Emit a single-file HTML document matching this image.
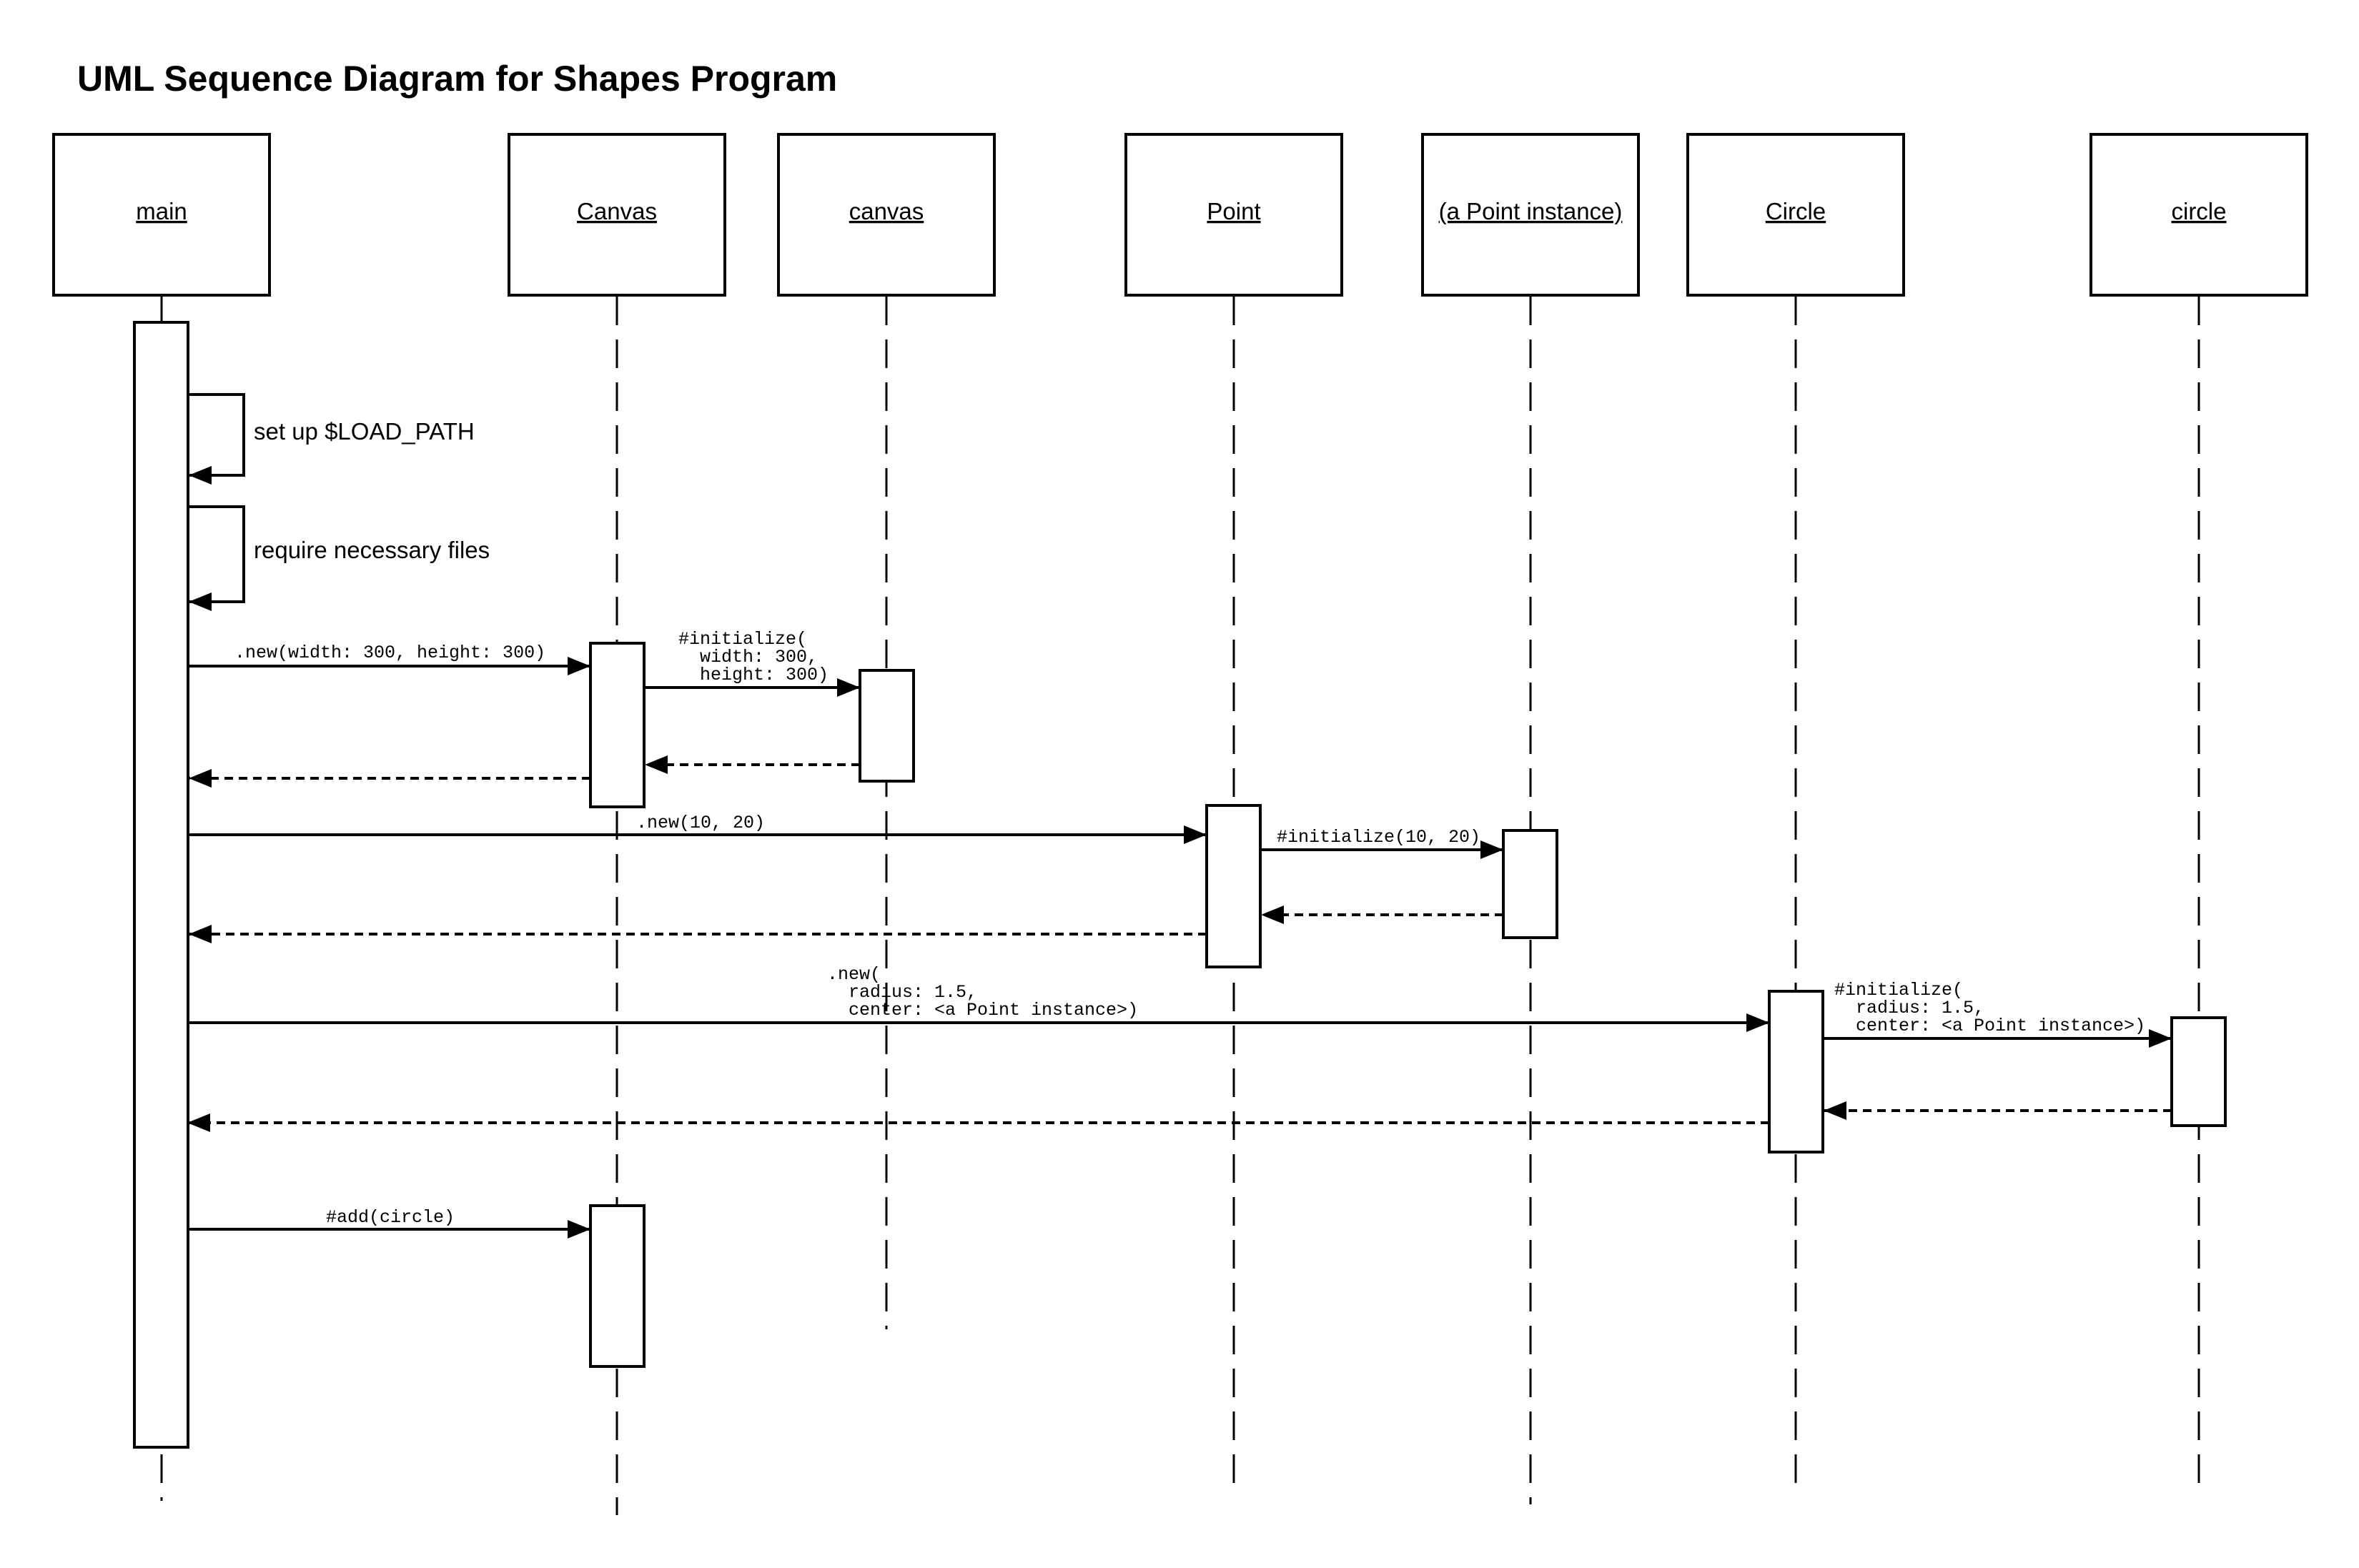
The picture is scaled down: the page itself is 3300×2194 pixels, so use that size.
<!DOCTYPE html>
<html><head><meta charset="utf-8"><style>
html,body{margin:0;padding:0;background:#fff}
svg{display:block}
.t{font-family:"Liberation Sans",sans-serif}
.m{font-family:"Liberation Mono",monospace;font-size:25px}
</style></head><body>
<svg width="3300" height="2194" viewBox="0 0 3300 2194" xmlns="http://www.w3.org/2000/svg">
<defs>
<marker id="a" markerWidth="34" markerHeight="26" refX="32" refY="13" markerUnits="userSpaceOnUse" orient="auto">
<path d="M0,0 L32,13 L0,26 z" fill="#000"/></marker>
</defs>
<rect width="3300" height="2194" fill="#fff"/>
<text x="108" y="127" class="t" font-size="50" font-weight="bold">UML Sequence Diagram for Shapes Program</text>

<g fill="#fff" stroke="#000" stroke-width="4">
<rect x="75" y="188" width="302" height="225"/>
<rect x="712" y="188" width="302" height="225"/>
<rect x="1089" y="188" width="302" height="225"/>
<rect x="1575" y="188" width="302" height="225"/>
<rect x="1990" y="188" width="302" height="225"/>
<rect x="2361" y="188" width="302" height="225"/>
<rect x="2925" y="188" width="302" height="225"/>
</g>
<g class="t" font-size="33" text-anchor="middle" text-decoration="underline">
<text x="226" y="307">main</text>
<text x="863" y="307">Canvas</text>
<text x="1240" y="307">canvas</text>
<text x="1726" y="307">Point</text>
<text x="2141" y="307">(a Point instance)</text>
<text x="2512" y="307">Circle</text>
<text x="3076" y="307">circle</text>
</g>

<g stroke="#000" stroke-width="3" stroke-dasharray="40,20" fill="none">
<line x1="226" y1="415" x2="226" y2="2100"/>
<line x1="863" y1="415" x2="863" y2="2120"/>
<line x1="1240" y1="415" x2="1240" y2="1860"/>
<line x1="1726" y1="415" x2="1726" y2="2085"/>
<line x1="2141" y1="415" x2="2141" y2="2105"/>
<line x1="2512" y1="415" x2="2512" y2="2085"/>
<line x1="3076" y1="415" x2="3076" y2="2085"/>
</g>

<g fill="#fff" stroke="#000" stroke-width="4">
<rect x="188" y="451" width="75" height="1574"/>
<rect x="826" y="900" width="75" height="229"/>
<rect x="1203" y="938" width="75" height="155"/>
<rect x="1688" y="1127" width="75" height="226"/>
<rect x="2103" y="1162" width="75" height="150"/>
<rect x="2475" y="1387" width="75" height="225"/>
<rect x="3038" y="1424" width="75" height="151"/>
<rect x="826" y="1687" width="75" height="225"/>
</g>

<g stroke="#000" stroke-width="4" fill="none">
<polyline points="264,552 341,552 341,665 264,665" marker-end="url(#a)"/>
<polyline points="264,709 341,709 341,842 264,842" marker-end="url(#a)"/>
<line x1="264" y1="932" x2="826" y2="932" marker-end="url(#a)"/>
<line x1="902" y1="962" x2="1203" y2="962" marker-end="url(#a)"/>
<line x1="264" y1="1168" x2="1688" y2="1168" marker-end="url(#a)"/>
<line x1="1764" y1="1189" x2="2103" y2="1189" marker-end="url(#a)"/>
<line x1="264" y1="1431" x2="2475" y2="1431" marker-end="url(#a)"/>
<line x1="2551" y1="1453" x2="3038" y2="1453" marker-end="url(#a)"/>
<line x1="264" y1="1720" x2="826" y2="1720" marker-end="url(#a)"/>
</g>
<g stroke="#000" stroke-width="4" fill="none" stroke-dasharray="12,8">
<line x1="1203" y1="1070" x2="902" y2="1070" marker-end="url(#a)"/>
<line x1="826" y1="1089" x2="264" y2="1089" marker-end="url(#a)"/>
<line x1="2103" y1="1280" x2="1764" y2="1280" marker-end="url(#a)"/>
<line x1="1688" y1="1307" x2="264" y2="1307" marker-end="url(#a)"/>
<line x1="3038" y1="1554" x2="2551" y2="1554" marker-end="url(#a)"/>
<line x1="2475" y1="1571" x2="262" y2="1571" marker-end="url(#a)"/>
</g>

<g class="t" font-size="33">
<text x="355" y="615">set up $LOAD_PATH</text>
<text x="355" y="781">require necessary files</text>
</g>
<g class="m">
<text x="328" y="920">.new(width: 300, height: 300)</text>
<text x="949" y="901">#initialize(</text>
<text x="979" y="926">width: 300,</text>
<text x="979" y="951">height: 300)</text>
<text x="890" y="1158">.new(10, 20)</text>
<text x="1786" y="1178">#initialize(10, 20)</text>
<text x="1157" y="1370">.new(</text>
<text x="1187" y="1395">radius: 1.5,</text>
<text x="1187" y="1420">center: &lt;a Point instance&gt;)</text>
<text x="2566" y="1392">#initialize(</text>
<text x="2596" y="1417">radius: 1.5,</text>
<text x="2596" y="1442">center: &lt;a Point instance&gt;)</text>
<text x="456" y="1710">#add(circle)</text>
</g>
</svg>
</body></html>
